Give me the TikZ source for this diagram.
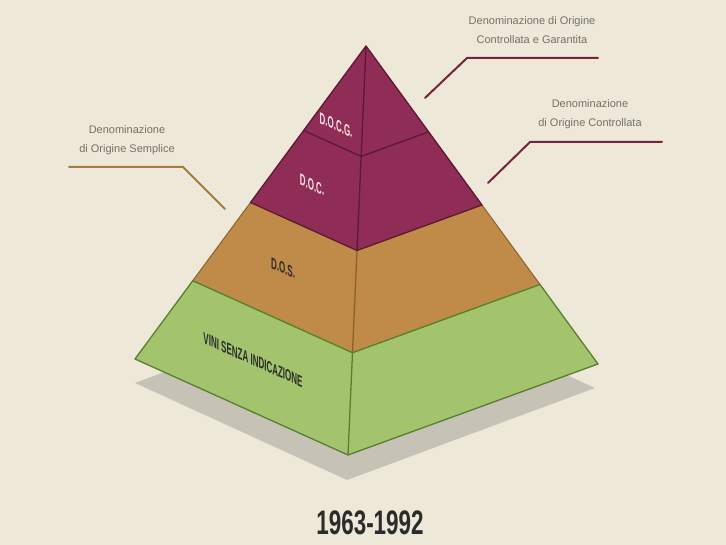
\documentclass[tikz,border=0pt]{standalone}
\usepackage{fontspec}
\setmainfont{Liberation Sans}
\newfontfamily\condfont[FakeStretch=0.5]{Liberation Sans}
\newfontfamily\yearfont[FakeStretch=0.66]{Liberation Sans}
\usetikzlibrary{calc}
\definecolor{paper}{HTML}{EDE8D8}
\definecolor{groundshadow}{HTML}{C6C2B6}
\definecolor{maroon}{HTML}{8F2D57}
\definecolor{maroondark}{HTML}{5C1834}
\definecolor{ochre}{HTML}{C08A48}
\definecolor{ochredark}{HTML}{8A6230}
\definecolor{leaf}{HTML}{A3C46C}
\definecolor{leafdark}{HTML}{55802F}
\definecolor{notegray}{HTML}{75706A}
\definecolor{ochreline}{HTML}{A67C37}
\definecolor{maroonline}{HTML}{78223F}
\definecolor{ink}{HTML}{2B2B2B}
\tikzset{
 face/.style
  = {line width=1.3pt, line join=round},
 tag/.style
  = {font=\condfont\bfseries\fontsize{16}{16}\selectfont, inner sep=0pt, yslant=-0.45},
 note/.style
  = {font=\fontsize{11}{19}\selectfont, text=notegray, align=center, inner sep=0pt},
 ln/.style
  = {line width=2pt, line cap=round, line join=miter}
}
\begin{document}
\begin{tikzpicture}[x=1pt, y=1pt]
    \fill[paper] (0,0) rectangle (726,545);
    \coordinate (apex) at (366,499);
    \coordinate (left) at (135,186);
    \coordinate (front) at (348,90);
    \coordinate (right) at (598,181);

    % shadow
    \fill[groundshadow] (135,162) -- (347,65) -- (595,157) -- (383,254) -- cycle;

    % bands
    \foreach \ta/\tb/\col in {0/0.27/maroon, 0.27/0.5/maroon, 0.5/0.75/ochre, 0.75/1/leaf}{
      \fill[\col] ($(apex)!\ta!(left)$) -- ($(apex)!\tb!(left)$) -- ($(apex)!\tb!(front)$)
        -- ($(apex)!\tb!(right)$) -- ($(apex)!\ta!(right)$) -- ($(apex)!\ta!(front)$) -- cycle;
    }

    % edges
    \draw[face, ochredark, line width=1pt] ($(apex)!0.5!(left)$) -- ($(apex)!0.75!(left)$);
    \draw[face, ochredark, line width=1pt] ($(apex)!0.5!(right)$) -- ($(apex)!0.75!(right)$);
    \draw[face, ochredark] ($(apex)!0.5!(front)$) -- ($(apex)!0.75!(front)$);
    \draw[face, leafdark] ($(apex)!0.75!(left)$) -- (left) -- (front) -- (right)
      -- ($(apex)!0.75!(right)$) -- ($(apex)!0.75!(front)$) -- cycle;
    \draw[face, leafdark] ($(apex)!0.75!(front)$) -- (front);
    \draw[face, maroondark] (apex) -- ($(apex)!0.5!(left)$) -- ($(apex)!0.5!(front)$)
      -- ($(apex)!0.5!(right)$) -- cycle;
    \draw[face, maroondark] (apex) -- ($(apex)!0.5!(front)$);
    \draw[face, maroondark] ($(apex)!0.27!(left)$) -- ($(apex)!0.27!(front)$) -- ($(apex)!0.27!(right)$);

    % level tags
    \node [tag, text=pink!40!white] (docg) at (336,420) {D.O.C.G.};
    \node [tag, text=pink!40!white] (doc) at (312,360) {D.O.C.};
    \node [tag, text=ink] (dos) at (283,277) {D.O.S.};
    \node [tag, text=ink] (vini) at (253,185) {VINI SENZA INDICAZIONE};

    % notes
    \node [note] (docg-note) at (532,515) {Denominazione di Origine\\Controllata e Garantita};
    \node [note] (doc-note) at (590,431) {Denominazione\\di Origine Controllata};
    \node [note] (dos-note) at (127,405) {Denominazione\\di Origine Semplice};

    \coordinate (docg-start) at (598,487);
    \coordinate (docg-tip) at (425,447);
    \coordinate (doc-start) at (662,403);
    \coordinate (doc-tip) at (488,362);
    \coordinate (dos-start) at (69,378);
    \coordinate (dos-tip) at (225,336);

    \draw [ln, maroonline] (docg-start) -- ++(-131,0) -- (docg-tip);
    \draw [ln, maroonline] (doc-start) -- ++(-132,0) -- (doc-tip);
    \draw [ln, ochreline] (dos-start) -- ++(114,0) -- (dos-tip);

    \node [font=\yearfont\bfseries\fontsize{34}{34}\selectfont, text=ink] (years) at (370,22) {1963-1992};
\end{tikzpicture}
\end{document}
